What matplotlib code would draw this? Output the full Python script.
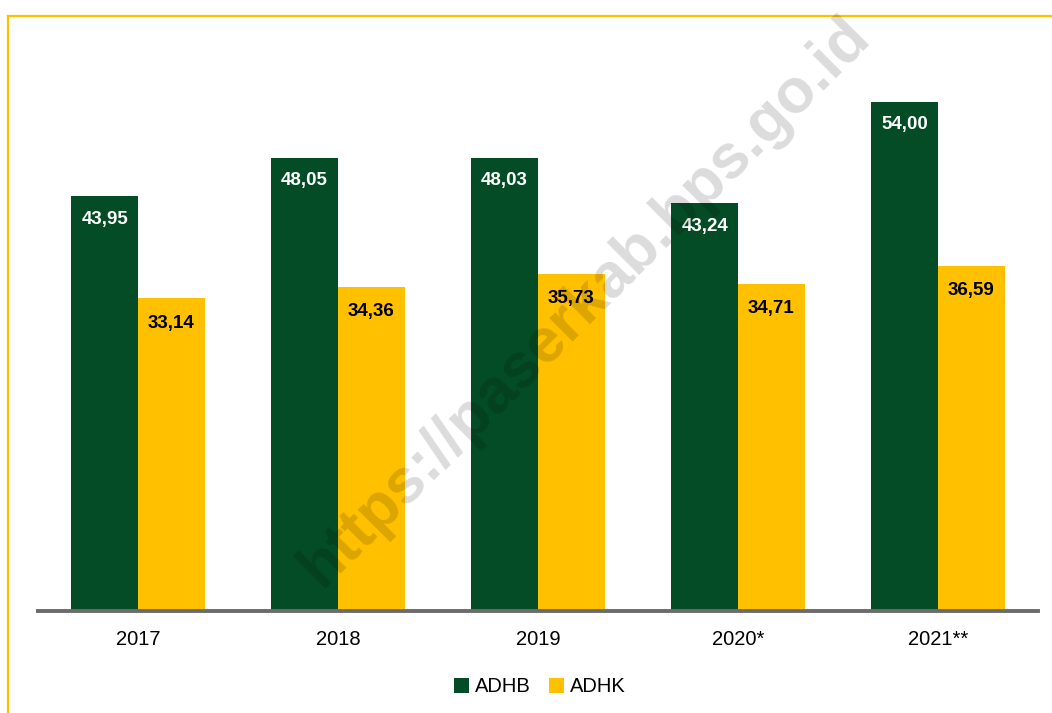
import matplotlib
matplotlib.use("Agg")
import matplotlib.pyplot as plt
from matplotlib.lines import Line2D
import numpy as np

plt.rcParams['font.family'] = ['Liberation Sans', 'DejaVu Sans']

# data
years = ["2017", "2018", "2019", "2020*", "2021**"]
adhb = [43.95, 48.05, 48.03, 43.24, 54.00]
adhk = [33.14, 34.36, 35.73, 34.71, 36.59]

green = "#044C25"
yellow = "#FFC000"

W, H = 1052, 713
fig = plt.figure(figsize=(W / 100, H / 100), dpi=100)

# axes placed so the baseline sits at y=611 px, x from 38 to 1038 px
top_px = 45
ax = fig.add_axes([38 / W, (H - 611) / H, 1000 / W, (611 - top_px) / H])

x = np.arange(len(years))
w = 1 / 3
b1 = ax.bar(x - w / 2, adhb, w, color=green, label="ADHB", zorder=2)
b2 = ax.bar(x + w / 2, adhk, w, color=yellow, label="ADHK", zorder=2)

# value labels inside the top of each bar
for bars, vals, col, off in [(b1, adhb, "white", -23), (b2, adhk, "black", -25)]:
    for rect, v in zip(bars, vals):
        ax.annotate(f"{v:.2f}".replace(".", ","),
                    (rect.get_x() + rect.get_width() / 2, rect.get_height()),
                    xytext=(0, off), textcoords="offset pixels",
                    ha="center", va="center", color=col, fontsize=13.5,
                    fontweight="bold", zorder=3)

ax.set_xlim(-0.5, len(years) - 0.5)
ax.set_ylim(0, 60)
ax.set_xticks(x)
ax.set_xticklabels(years, fontsize=14.5)
ax.tick_params(axis="x", length=0, pad=14)
ax.set_yticks([])
for s in ["top", "right", "left"]:
    ax.spines[s].set_visible(False)
ax.spines["bottom"].set_color("#6b6b6b")
ax.spines["bottom"].set_linewidth(2.8)
ax.spines["bottom"].set_zorder(4)

fig.legend(loc="center", bbox_to_anchor=(0.513, 1 - 687 / H), ncol=2, frameon=False,
           fontsize=14.5, handlelength=0.75, handleheight=0.75, handletextpad=0.3,
           columnspacing=0.9)

# yellow frame (top and left edges)
fig.add_artist(Line2D([8 / W, 1], [1 - 16 / H, 1 - 16 / H], color=yellow, lw=1.6))
fig.add_artist(Line2D([8 / W, 8 / W], [0, 1 - 16 / H], color=yellow, lw=1.6))

# watermark
fig.text(585 / W, 1 - 302 / H, "https://paserkab.bps.go.id", rotation=45,
         ha="center", va="center", fontsize=45, fontweight="bold",
         color="black", alpha=0.14, zorder=10)

fig.savefig("out.png", dpi=100)
